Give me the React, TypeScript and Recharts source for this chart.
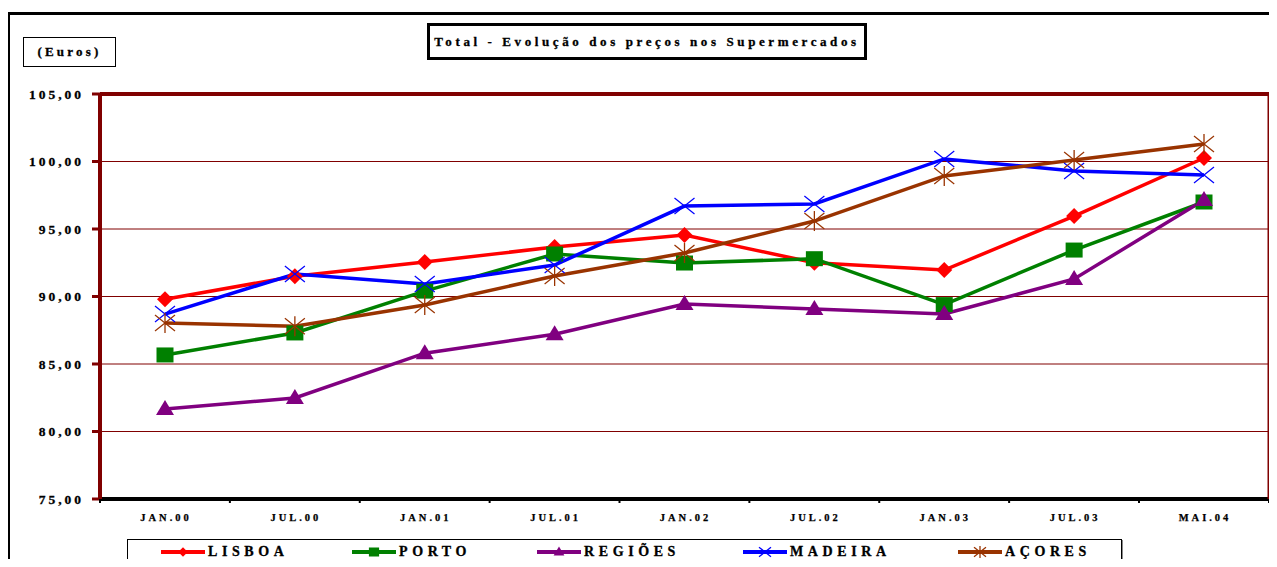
import React from "react";
import { LineChart, Line, XAxis, YAxis, CartesianGrid, ReferenceLine } from "recharts";

const months = ["JAN.00", "JUL.00", "JAN.01", "JUL.01", "JAN.02", "JUL.02", "JAN.03", "JUL.03", "MAI.04"];
const lisboa = [89.8, 91.5, 92.55, 93.67, 94.56, 92.5, 91.96, 95.96, 100.26];
const porto = [85.67, 87.3, 90.4, 93.15, 92.48, 92.8, 89.4, 93.44, 97.0];
const regioes = [81.67, 82.48, 85.8, 87.2, 89.44, 89.07, 88.7, 91.3, 97.15];
const madeira = [88.7, 91.67, 90.93, 92.33, 96.7, 96.85, 100.19, 99.3, 99.0];
const acores = [88.04, 87.8, 89.37, 91.52, 93.22, 95.59, 98.93, 100.11, 101.3];
const yTicks = [75, 80, 85, 90, 95, 100, 105];

const data = months.map((m, i) => ({
  month: m,
  lisboa: lisboa[i],
  porto: porto[i],
  regioes: regioes[i],
  madeira: madeira[i],
  acores: acores[i],
}));

const FONT = "'Liberation Serif', 'Times New Roman', serif";
const DARK_RED = "#800000";
const PAD = 65;

type Shape = "diamond" | "square" | "triangle" | "x" | "star";

function Marker({ cx, cy, shape, color, s = 1 }: { cx: number; cy: number; shape: Shape; color: string; s?: number }) {
  if (cx == null || cy == null) return null;
  switch (shape) {
    case "diamond":
      return <polygon points={`${cx},${cy - 8 * s} ${cx + 8 * s},${cy} ${cx},${cy + 8 * s} ${cx - 8 * s},${cy}`} fill={color} />;
    case "square":
      return <rect x={cx - 8.5 * s} y={cy - 7.5 * s} width={17 * s} height={15 * s} fill={color} />;
    case "triangle":
      return <polygon points={`${cx},${cy - 9 * s} ${cx + 9 * s},${cy + 6 * s} ${cx - 9 * s},${cy + 6 * s}`} fill={color} />;
    case "x":
      return (
        <g stroke={color} strokeWidth={1.3}>
          <line x1={cx - 10 * s} y1={cy - 8 * s} x2={cx + 10 * s} y2={cy + 8 * s} />
          <line x1={cx - 10 * s} y1={cy + 8 * s} x2={cx + 10 * s} y2={cy - 8 * s} />
        </g>
      );
    case "star":
      return (
        <g stroke={color} strokeWidth={1.3}>
          <line x1={cx - 10 * s} y1={cy - 8 * s} x2={cx + 10 * s} y2={cy + 8 * s} />
          <line x1={cx - 10 * s} y1={cy + 8 * s} x2={cx + 10 * s} y2={cy - 8 * s} />
          <line x1={cx} y1={cy - 10 * s} x2={cx} y2={cy + 10 * s} />
        </g>
      );
  }
  return null;
}

const series: { key: string; name: string; color: string; shape: Shape }[] = [
  { key: "lisboa", name: "LISBOA", color: "#FF0000", shape: "diamond" },
  { key: "porto", name: "PORTO", color: "#008000", shape: "square" },
  { key: "regioes", name: "REGIÕES", color: "#800080", shape: "triangle" },
  { key: "madeira", name: "MADEIRA", color: "#0000FF", shape: "x" },
  { key: "acores", name: "AÇORES", color: "#993300", shape: "star" },
];

const legendLeft = [33, 224, 409, 615, 830];

function XTick(props: any) {
  const { x, y, payload, index } = props;
  const last = index === months.length - 1;
  return (
    <g>
      <text
        x={x + 1}
        y={y + 22}
        textAnchor="middle"
        style={{ fontFamily: FONT, fontWeight: 900, fontSize: 10.5, letterSpacing: 3 }}
        fill="#000"
        stroke="#000"
        strokeWidth={0.25}
      >
        {payload.value}
      </text>
      <line x1={x - PAD} y1={y} x2={x - PAD} y2={y + 4} stroke="#000" strokeWidth={2} />
      {last && <line x1={x + PAD} y1={y} x2={x + PAD} y2={y + 4} stroke="#000" strokeWidth={2} />}
    </g>
  );
}

export default function App() {
  return (
    <div
      style={{
        position: "relative",
        margin: -8,
        width: 1277,
        height: 567,
        overflow: "hidden",
        background: "#fff",
        fontFamily: FONT,
      }}
    >
      <div
        style={{
          position: "absolute",
          left: 7,
          top: 12,
          width: 1320,
          height: 620,
          border: "3px solid #000",
        }}
      />
      <div
        style={{
          position: "absolute",
          left: 23,
          top: 37,
          width: 93,
          height: 30,
          boxSizing: "border-box",
          border: "1px solid #000",
          display: "flex",
          alignItems: "center",
          justifyContent: "center",
          fontWeight: "bold",
          fontSize: 13,
          letterSpacing: 3.2,
          WebkitTextStroke: "0.3px #000",
        }}
      >
        (Euros)
      </div>
      <div
        style={{
          position: "absolute",
          left: 427,
          top: 23,
          width: 440,
          height: 37,
          boxSizing: "border-box",
          border: "3px solid #000",
          display: "flex",
          alignItems: "center",
          justifyContent: "center",
          fontWeight: "bold",
          fontSize: 13,
          letterSpacing: 3.6,
          whiteSpace: "nowrap",
          WebkitTextStroke: "0.3px #000",
        }}
      >
        Total - Evolução dos preços nos Supermercados
      </div>

      <div style={{ position: "absolute", left: 0, top: 0 }}>
        <LineChart width={1277} height={567} data={data} margin={{ top: 94, right: 7, left: 10, bottom: 38 }}>
          <CartesianGrid vertical={false} stroke={DARK_RED} strokeWidth={1} />
          <XAxis
            dataKey="month"
            padding={{ left: PAD, right: PAD }}
            height={30}
            axisLine={{ stroke: "#000", strokeWidth: 4 }}
            tickLine={false}
            tickSize={0}
            tickMargin={0}
            tick={<XTick />}
            interval={0}
          />
          <YAxis
            domain={[75, 105]}
            ticks={yTicks}
            width={90}
            interval={0}
            axisLine={{ stroke: DARK_RED, strokeWidth: 4 }}
            tickLine={{ stroke: DARK_RED, strokeWidth: 3 }}
            tickSize={8}
            tickMargin={8}
            tickFormatter={(v: number) => v.toFixed(2).replace(".", ",")}
            tick={{
              fill: "#000",
              stroke: "#000",
              strokeWidth: 0.3,
              fontFamily: FONT,
              fontWeight: 900,
              fontSize: 13.5,
              letterSpacing: 3,
            }}
          />
          <YAxis
            yAxisId="right"
            orientation="right"
            domain={[75, 105]}
            width={1}
            tick={false}
            tickLine={false}
            axisLine={{ stroke: DARK_RED, strokeWidth: 3 }}
          />
          <ReferenceLine y={105} stroke={DARK_RED} strokeWidth={4} ifOverflow="extendDomain" />
          {series.map((s) => (
            <Line
              key={s.key}
              type="linear"
              dataKey={s.key}
              name={s.name}
              stroke={s.color}
              strokeWidth={3.5}
              isAnimationActive={false}
              dot={(p: any) => <Marker key={`${s.key}-${p.index}`} cx={p.cx} cy={p.cy} shape={s.shape} color={s.color} />}
              activeDot={false}
            />
          ))}
        </LineChart>
      </div>

      <div
        style={{
          position: "absolute",
          left: 127,
          top: 539,
          width: 995,
          height: 25,
          boxSizing: "border-box",
          border: "1px solid #000",
          boxShadow: "1px 1px 0 #888",
          background: "#fff",
        }}
      >
        {series.map((s, i) => (
          <div
            key={s.key}
            style={{
              position: "absolute",
              left: legendLeft[i],
              top: 0,
              height: 23,
              display: "flex",
              alignItems: "center",
              whiteSpace: "nowrap",
            }}
          >
            <svg width={44} height={20} style={{ display: "block" }}>
              <line x1={0} y1={10} x2={44} y2={10} stroke={s.color} strokeWidth={4} />
              <Marker cx={22} cy={10} shape={s.shape} color={s.color} s={0.6} />
            </svg>
            <span
              style={{
                marginLeft: 3,
                fontWeight: "bold",
                fontSize: 14,
                letterSpacing: 4.6,
                WebkitTextStroke: "0.3px #000",
              }}
            >
              {s.name}
            </span>
          </div>
        ))}
      </div>
    </div>
  );
}
